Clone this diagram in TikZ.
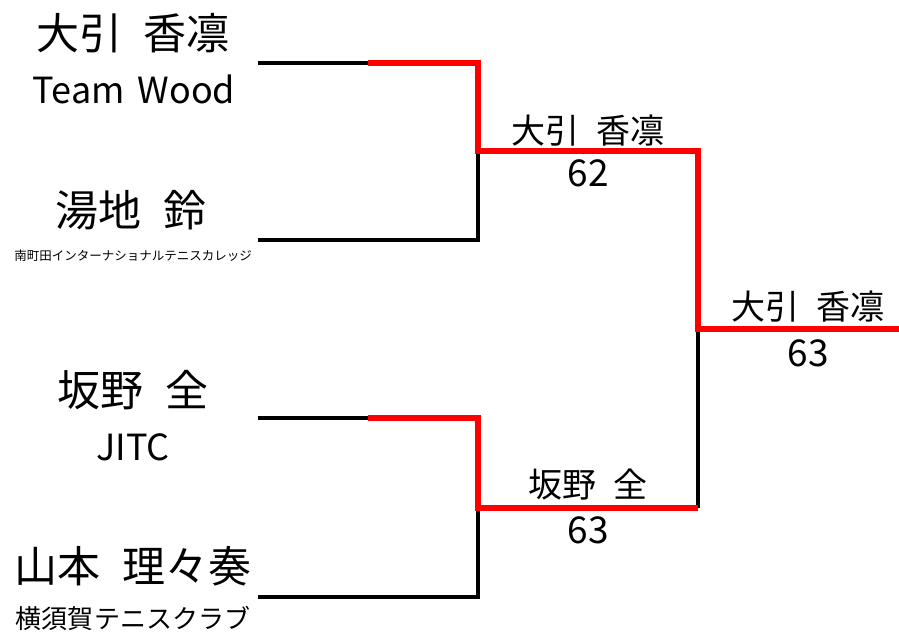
\documentclass[tikz,border=0pt]{standalone}
\usepackage{fontspec}
\setmainfont[WordSpace=2.2]{Noto Sans CJK JP}
\newfontfamily\latinfont[WordSpace=1.6]{Noto Sans CJK JP}
\begin{document}
\begin{tikzpicture}[x=1pt,y=-1pt,
  txt/.style={inner sep=0pt,anchor=center,font=#1},
  bigname/.style={txt=\fontsize{43}{51}\selectfont},
  club/.style={txt=\latinfont\fontsize{36}{43}\selectfont},
  tinyclub/.style={txt=\fontsize{12.5}{15}\selectfont},
  midclub/.style={txt=\fontsize{26}{31}\selectfont},
  winname/.style={txt=\fontsize{34}{40}\selectfont},
  score/.style={txt=\fontsize{37}{44}\selectfont},
  loser/.style={line width=4pt,black,line join=miter},
  winner/.style={line width=6pt,red,line join=miter}]
\useasboundingbox[fill=white] (0,0) rectangle (899,634);
% players
\node[bigname] (n1) at (133,33) {大引 香凛};
\node[club] (c1) at (134,89) {Team Wood};
\node[bigname] (n2) at (131,210) {湯地 鈴};
\node[tinyclub] (c2) at (133,256) {南町田インターナショナルテニスカレッジ};
\node[bigname] (n3) at (133,390) {坂野 全};
\node[club] (c3) at (133,447) {JITC};
\node[bigname] (n4) at (133,566) {山本 理々奏};
\node[midclub] (c4) at (133,618) {横須賀テニスクラブ};
% results
\node[winname] (w1) at (588,131) {大引 香凛};
\node[score] (s1) at (588,173) {62};
\node[winname] (w2) at (588,485) {坂野 全};
\node[score] (s2) at (588,530) {63};
\node[winname] (w3) at (808,307) {大引 香凛};
\node[score] (s3) at (808,353) {63};
% bracket coordinates
\coordinate (a1) at (258,63);
\coordinate (a2) at (368,63);
\coordinate (a3) at (478,63);
\coordinate (m1) at (478,151);
\coordinate (f1) at (698,151);
\coordinate (b1) at (258,240);
\coordinate (b2) at (478,240);
\coordinate (d1) at (258,418);
\coordinate (d2) at (368,418);
\coordinate (d3) at (478,418);
\coordinate (m2) at (478,508);
\coordinate (f2) at (698,508);
\coordinate (e1) at (258,597);
\coordinate (e2) at (478,597);
\coordinate (fm) at (698,329);
\coordinate (fe) at (899,329);
% losers' paths
\draw[loser] (a1) -- (a2);
\draw[loser] (m1) -- (b2) -- (b1);
\draw[loser] (d1) -- (d2);
\draw[loser] (m2) -- (e2) -- (e1);
\draw[loser] (fm) -- (f2);
% winners' paths
\draw[winner] (a2) -- (a3) -- (m1) -- (f1) -- (fm) -- (fe);
\draw[winner] (d2) -- (d3) -- (m2) -- (f2);
\end{tikzpicture}
\end{document}
